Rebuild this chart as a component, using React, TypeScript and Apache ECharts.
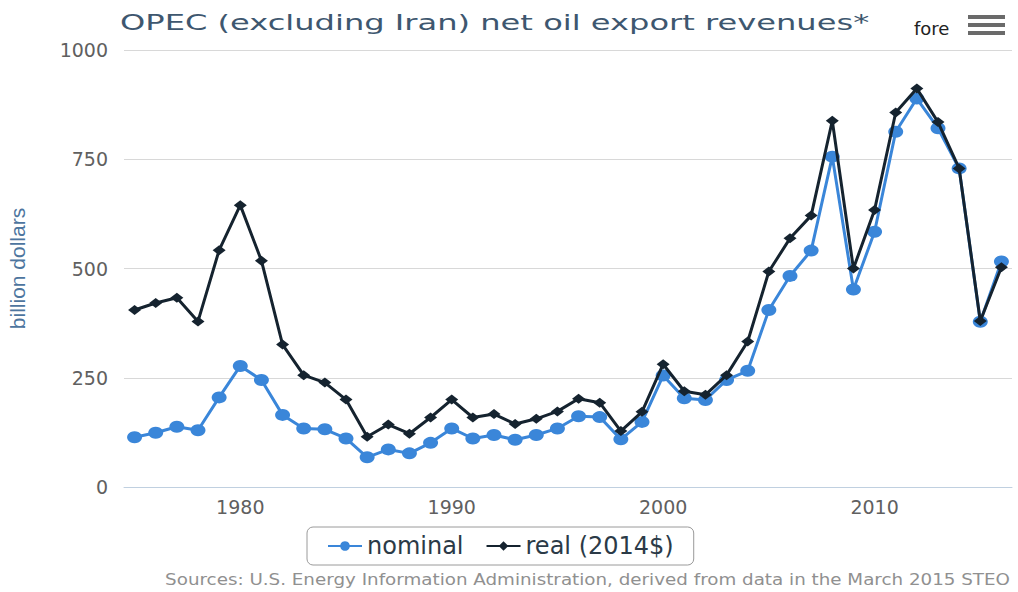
import React, { useEffect, useRef } from "react";
import * as echarts from "echarts";

const years: string[] = [];
for (let y = 1975; y <= 2016; y++) years.push(String(y));

const nominal = [
  114, 124, 138, 130, 205, 277, 245, 165, 134, 132,
  111, 68, 86, 77, 101, 134, 111, 119, 108, 119,
  134, 162, 160, 109, 149, 255, 203, 199, 245, 266,
  405, 483, 541, 756, 452, 584, 813, 889, 821, 729,
  378, 516,
];

const real = [
  405, 421, 433, 379, 542, 645, 518, 326, 256, 239,
  200, 115, 143, 122, 159, 200, 159, 167, 144, 156,
  173, 202, 193, 128, 172, 281, 219, 211, 256, 333,
  493, 569, 621, 838, 500, 634, 857, 912, 835, 729,
  380, 503,
];

const yTicks = [0, 250, 500, 750, 1000];

const titleText = "OPEC (excluding Iran) net oil export revenues*";
const creditText =
  "Sources: U.S. Energy Information Administration, derived from data in the March 2015 STEO";

const FONT = "DejaVu Sans";

export default function App() {
  const ref = useRef<HTMLDivElement>(null);
  useEffect(() => {
    if (!ref.current) return;
    const chart = echarts.init(ref.current, undefined, { renderer: "svg" });
    chart.setOption({
      animation: false,
      backgroundColor: "#ffffff",
      graphic: [
        {
          type: "text",
          x: 120,
          y: 22,
          scaleX: 1.46,
          style: {
            text: titleText,
            fontFamily: FONT,
            fontSize: 22,
            fill: "#3e576f",
            textAlign: "left",
            textVerticalAlign: "middle",
          },
        },
        {
          type: "text",
          x: 914,
          y: 28,
          style: {
            text: "fore",
            fontFamily: FONT,
            fontSize: 18,
            fill: "#222",
            textVerticalAlign: "middle",
          },
        },
        { type: "rect", shape: { x: 968, y: 15, width: 37, height: 4 }, style: { fill: "#6a6a6a" } },
        { type: "rect", shape: { x: 968, y: 23, width: 37, height: 4 }, style: { fill: "#6a6a6a" } },
        { type: "rect", shape: { x: 968, y: 31, width: 37, height: 4 }, style: { fill: "#6a6a6a" } },
        {
          type: "text",
          x: 1010,
          y: 580,
          scaleX: 1.22,
          style: {
            text: creditText,
            fontFamily: FONT,
            fontSize: 15,
            fill: "#909090",
            textAlign: "right",
            textVerticalAlign: "middle",
          },
        },
      ],
      legend: {
        left: 307,
        top: 527,
        padding: [7, 20],
        itemGap: 22,
        itemWidth: 34,
        itemHeight: 12,
        borderColor: "#9a9a9a",
        borderWidth: 1,
        borderRadius: 6,
        textStyle: { fontFamily: FONT, fontSize: 24, color: "#2b3a47" },
        data: ["nominal", "real (2014$)"],
      },
      grid: {
        left: 124,
        right: 6,
        top: 50,
        bottom: 105,
        containLabel: false,
        outerBoundsMode: "none",
      },
      xAxis: {
        type: "category",
        data: years,
        boundaryGap: true,
        axisLine: { lineStyle: { color: "#c0d0e0", width: 1 } },
        axisTick: { show: false },
        axisLabel: {
          interval: (_i: number, v: string) => Number(v) % 10 === 0,
          margin: 10,
          fontFamily: FONT,
          fontSize: 19,
          color: "#606060",
        },
      },
      yAxis: {
        type: "value",
        min: yTicks[0],
        max: yTicks[yTicks.length - 1],
        interval: 250,
        name: "billion dollars",
        nameLocation: "middle",
        nameRotate: 90,
        nameGap: 96,
        nameTextStyle: { fontFamily: "Liberation Sans", fontSize: 21, color: "#4d759e" },
        axisLine: { show: false },
        axisTick: { show: false },
        splitLine: { lineStyle: { color: "#d8d8d8", width: 1 } },
        axisLabel: {
          margin: 16,
          fontFamily: FONT,
          fontSize: 19,
          color: "#606060",
          formatter: (v: number) => String(v),
        },
      },
      series: [
        {
          name: "nominal",
          type: "line",
          data: nominal,
          symbol: "circle",
          symbolSize: [15, 12],
          lineStyle: { color: "#3a86d9", width: 3 },
          itemStyle: { color: "#3a86d9" },
          z: 2,
        },
        {
          name: "real (2014$)",
          type: "line",
          data: real,
          symbol: "diamond",
          symbolSize: [13, 10],
          lineStyle: { color: "#15232f", width: 3 },
          itemStyle: { color: "#15232f" },
          z: 3,
        },
      ],
    });
    return () => chart.dispose();
  }, []);
  return (
    <div
      ref={ref}
      style={{ position: "fixed", left: 0, top: 0, width: 1018, height: 592 }}
    />
  );
}
